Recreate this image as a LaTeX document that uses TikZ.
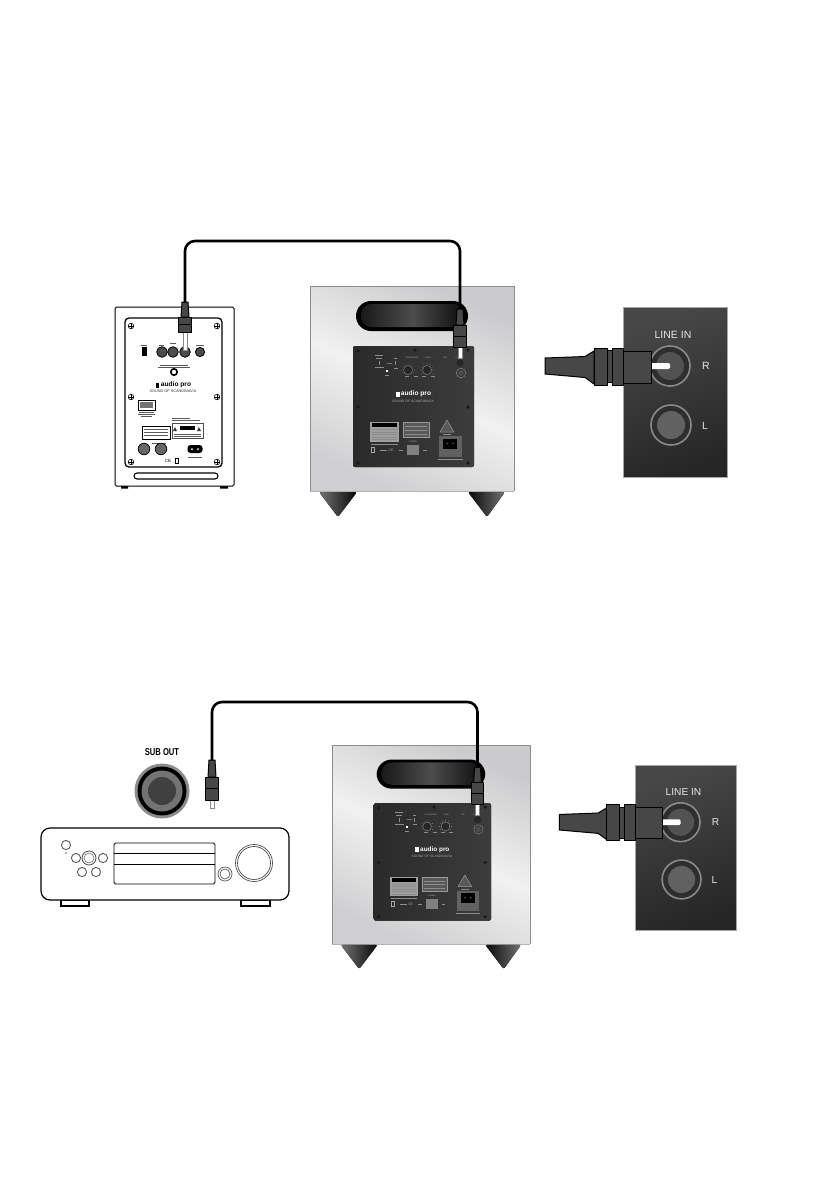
\documentclass[tikz,border=0pt]{standalone}
\usepackage{fontspec}
\setmainfont{Liberation Sans}
\definecolor{silverA}{HTML}{CBCBCD}
\definecolor{silverB}{HTML}{F1F1F2}
\definecolor{silverC}{HTML}{CFCFD1}
\definecolor{panelA}{HTML}{2A2A2A}
\definecolor{panelB}{HTML}{3C3C3C}
\definecolor{plugG}{HTML}{474747}
\definecolor{ringG}{HTML}{8A8A8A}
\tikzset{
  cable/.style={draw=black,line width=2.6pt,rounded corners=10pt},
  plugpart/.style={fill=plugG,draw=black,line width=1pt,line join=round},
  pinpart/.style={fill=white,draw=ringG,line width=.5pt},
  lighttick/.style={draw=#1,line width=.5pt},
  lighttick/.default=white!55!black,
  darktick/.style={draw=black!65,line width=.5pt},
  subtxt/.style={text=white!70!black,inner sep=0pt,font=\fontsize{2}{2.4}\selectfont,transform shape},
  screw/.style={draw=black,line width=.6pt,fill=white},
  rec/.style={draw=black,line width=1.2pt,fill=white},
  recbtn/.style={draw=black!65,line width=.9pt,fill=white},
  jack/.style={fill=black!70,draw=black,line width=.8pt},
  paneltxt/.style={text=white!90!black,inner sep=0pt,font=\fontsize{10.5}{12}\selectfont,transform shape}
}
% vertical plug: name, x, y top, strain length, collar length, pin length
\newcommand{\vplug}[6]{%
  \coordinate (#1) at (#2,#3);
  \begin{scope}[shift={(#2,#3)}]
    \filldraw[pinpart] (-2,{#4+#5}) rectangle (2,{#4+#5+#6});
    \filldraw[plugpart] (-3,0) -- (3,0) -- (4,#4) -- (-4,#4) -- cycle;
    \filldraw[plugpart] (-6.5,#4) rectangle (6.5,{#4+#5/2});
    \filldraw[plugpart] (-6.5,{#4+#5/2}) rectangle (6.5,{#4+#5});
  \end{scope}}
% subwoofer, drawn at the top reference position inside a scope
\newcommand{\subwoofer}[1]{%
  \fill[left color=silverA,right color=silverC,middle color=silverB,shading angle=-25]
    (310,286) rectangle (514,491);
  \draw[black!45,line width=.7pt] (310,491) -- (310,286) -- (514,286) -- (514,491);
  \draw[black!30,line width=.7pt] (310,491) -- (514,491);
  \fill[left color=black!55,right color=black!97] (319,492) [rounded corners=2pt] -- (357,492) -- (338,517) -- cycle;
  \fill[left color=black!97,right color=black!55] (468,492) [rounded corners=2pt] -- (505,492) -- (487,517) -- cycle;
  \fill[black,rounded corners=15pt] (356,301) rectangle (468,331);
  \fill[left color=black!90,right color=black!95,middle color=black!70,rounded corners=10pt] (361,304) rectangle (464,327);
  \fill[left color=panelA,right color=panelB,rounded corners=2pt] (353,346) rectangle (474,467);
  \foreach \px/\py in {358/351,415/350,468/350,358/407,468/407,358/463,468/463}
    \fill[black!90] (\px,\py) circle (1.8);
  \node[subtxt] (#1xo) at (412,358) {CROSSOVER};
  \node[subtxt] (#1lv) at (428,358) {LEVEL};
  \node[subtxt] (#1lfe) at (445,358) {LFE};
  \node[subtxt] (#1li) at (459,358) {LINE IN};
  \node[subtxt] (#1pw) at (413,442) {POWER};
  \draw[lighttick] (375,355) -- (383,355) (376,358) -- (382,358) (375,367.5) -- (384,367.5) (394,358) -- (397,358) (394,368) -- (398,368) (385,375) -- (389,375);
  \draw[lighttick=black!55] (387,363) -- (392,363);
  \draw[lighttick] (379,361) -- (379,365) (395,361) -- (395,365);
  \fill[white] (386,370) rectangle (388,372);
  \foreach \kx in {408,427}{
    \filldraw[fill=black!85,draw=black!50,line width=.5pt] (\kx,370) circle (4.5);
    \foreach \a in {-30,0,...,210} \fill[white!65!black] ({\kx+6.2*cos(\a)},{370-6.2*sin(\a)}) circle (.3);
  }
  \draw[lighttick] (405,376) -- (409,376) (414,376) -- (418,376) (422,376) -- (426,376) (431,376) -- (435,376);
  \fill[black!85] (460,363) circle (3.6);
  \draw[black!50,line width=.5pt] (461,373) circle (4.8);
  \fill[black!70] (461,373) circle (2.8);
  \fill[white] (396,391.5) rectangle (399.5,396.5);
  \node[text=white,inner sep=0pt,font=\fontsize{6.6}{8}\bfseries\selectfont,transform shape] (#1logo) at (416,394) {audio pro};
  \node[text=white!65!black,inner sep=0pt,font=\fontsize{3.4}{4}\selectfont,transform shape] (#1snd) at (413,401) {SOUND OF SCANDINAVIA};
  \fill[white!62!black] (370,422) rectangle (399,442);
  \fill[black] (372,423) rectangle (397,427);
  \foreach \ly in {429.5,432,434.5,437,439.5} \draw[lighttick=black!45,line width=.7pt] (372,\ly) -- (397,\ly);
  \draw[lighttick] (371,444) -- (398,444);
  \filldraw[fill=black!65,draw=white!60!black,line width=.5pt] (403,422) rectangle (429,437);
  \foreach \ly in {426,430,434} \draw[lighttick] (405,\ly) -- (427,\ly);
  \filldraw[fill=black!65,draw=white!60!black,line width=.5pt,line join=round] (447,420) -- (454,432) -- (440,432) -- cycle;
  \draw[lighttick] (443,434.5) -- (451,434.5);
  \fill[black!62] (439,436) rectangle (462,457);
  \fill[black] (443,439) rectangle (457,449);
  \fill[white!60!black] (447,443.5) circle (.7) (453,443.5) circle (.7);
  \draw[lighttick] (438,459.5) -- (463,459.5);
  \fill[black!50] (407,445) rectangle (419,455);
  \draw[lighttick] (399,450) -- (403,450) (423,450) -- (427,450) (380,450) -- (387,450);
  \node[subtxt,font=\fontsize{3.4}{4}\selectfont] (#1ce) at (391,450) {CE};
  \draw[white!65!black,line width=.5pt] (371.5,447.5) rectangle (374.5,452.5);
  \vplug{#1plug}{460}{309}{16}{22}{11}
}
% line-in panel, drawn at the top reference position
\newcommand{\lineinpanel}[1]{%
  \fill[left color=black!72,right color=black!85,shading angle=20] (623,307) rectangle (727,477);
  \draw[black!35,line width=.5pt] (623,307) rectangle (727,477);
  \node[paneltxt] (#1t) at (673,335) {LINE IN};
  \node[paneltxt,font=\fontsize{10.5}{12}\selectfont] (#1r) at (706,366) {R};
  \node[paneltxt,font=\fontsize{10.5}{12}\selectfont] (#1l) at (705,426) {L};
  \filldraw[fill=black!82,draw=ringG,line width=1.6pt] (670,366) circle (20);
  \fill[black!68] (670,366) circle (14);
  \filldraw[fill=black!82,draw=ringG,line width=1.6pt] (671,425) circle (20);
  \fill[black!62] (671,425) circle (14);
  \fill[white,rounded corners=1.5pt] (650,363) rectangle (670,369);
  \filldraw[plugpart] (545,358) -- (585,356.5) -- (594,351) -- (594,384) -- (585,377.5) -- (545,374) -- cycle;
  \filldraw[plugpart] (594,348) rectangle (607,385);
  \filldraw[plugpart] (607,350.5) rectangle (612,382.5);
  \filldraw[plugpart] (612,348) rectangle (623,385);
  \filldraw[plugpart] (623,351) rectangle (651,383);
}
\begin{document}
\begin{tikzpicture}[x=1pt,y=-1pt]
\useasboundingbox (0,0) rectangle (839,1191);
\fill[white] (0,0) rectangle (839,1191);
% --- monitor speaker
\fill[black] (121,486) rectangle (128,488.5) (220,486) rectangle (228,488.5);
\draw[black,line width=1pt,fill=white,rounded corners=1.5pt] (115,307) rectangle (234,486);
\draw[black,line width=1.3pt,rounded corners=4pt] (125,318) rectangle (222,467);
\draw[black,line width=1.1pt,rounded corners=3pt] (134,473) rectangle (218,479);
\foreach \sx/\sy in {131/326,217/326,131/397,217/397,131/462,217/462}{
  \draw[screw] (\sx,\sy) circle (2.8);
  \draw[black,line width=.5pt] (\sx-2.8,\sy) -- (\sx+2.8,\sy) (\sx,\sy-2.8) -- (\sx,\sy+2.8);
}
\fill[black] (141.5,346.5) rectangle (146.5,356);
\foreach \jx in {162,173,185} \filldraw[jack] (\jx,352) circle (5.3);
\filldraw[jack] (200,352) circle (4.6);
\draw[darktick] (141,345.5) -- (147,345.5) (159,345.5) -- (164,345.5) (170,343.5) -- (176,343.5) (196,345.5) -- (204,345.5);
\draw[darktick] (160,365) -- (188,365) (158,367) -- (190,367);
\draw[black,line width=1.7pt] (174,372) circle (3.2);
\fill[black] (155.5,382.5) rectangle (158.5,387.5);
\node[text=black,inner sep=0pt,font=\fontsize{6.6}{8}\bfseries\selectfont] (monlogo) at (176,385) {audio pro};
\node[text=black!80,inner sep=0pt,font=\fontsize{3.8}{4.5}\selectfont] (monsnd) at (173,391) {SOUND OF SCANDINAVIA};
\draw[black,line width=.8pt] (138,400) rectangle (155,410);
\fill[black!55] (140,402) rectangle (153,408);
\draw[darktick] (139,412) -- (154,412) (138,414) -- (155,414) (141,416) -- (152,416);
\draw[black,line width=.6pt] (142,426) rectangle (170,439);
\foreach \ly in {429,432,435.5} \draw[darktick] (144,\ly) -- (168,\ly);
\draw[darktick] (172,418) -- (190,418) (172,420) -- (200,420);
\draw[black!70,line width=.5pt] (172,423) rectangle (203,438);
\fill[black] (180,426) rectangle (195,430);
\foreach \tx in {175,199} \fill[black!80] (\tx-2,431) -- (\tx+2,431) -- (\tx,427) -- cycle;
\draw[darktick] (174,434) -- (201,434) (174,436) -- (201,436);
\draw[darktick] (152,443) -- (166,443);
\filldraw[fill=black!60,draw=black,line width=.7pt] (144,449) circle (5.8);
\filldraw[fill=black!60,draw=black,line width=.7pt] (161,449) circle (5.8);
\fill[black,rounded corners=3pt] (187.5,445) rectangle (202.5,453);
\fill[white] (192,449) circle (1) (198,449) circle (1);
\draw[darktick] (188,457) -- (202,457);
\node[inner sep=0pt,font=\fontsize{4.5}{5}\selectfont] (monce) at (168,461) {CE};
\draw[black,line width=.5pt] (175,458.5) rectangle (178,463.5);
\vplug{monplug}{185}{302}{15}{15}{18}
% --- top subwoofer and panel
\subwoofer{sa}
\lineinpanel{la}
\coordinate (topa) at (300,241);
\draw[cable] (monplug) -- (monplug |- topa) -- (saplug |- topa) -- (saplug);
% --- bottom subwoofer and panel
\begin{scope}[shift={(332,745)},scale=.97,shift={(-310,-286)}]
  \subwoofer{sb}
\end{scope}
\begin{scope}[shift={(635,765)},scale=.97,shift={(-623,-307)}]
  \lineinpanel{lb}
\end{scope}
% --- receiver
\filldraw[rec] (61,900) rectangle (89,906);
\filldraw[rec] (241,900) rectangle (270,906);
\draw[rec,rounded corners=9pt] (41,828) rectangle (289,900);
\draw[black,line width=.9pt,rounded corners=1.5pt] (114,843) rectangle (215,884);
\draw[black,line width=.9pt] (114,853) -- (215,853) (114,864) -- (215,864);
\draw[black!70,line width=.7pt] (254,863) circle (18.5);
\draw[black!70,line width=.7pt] (254,863) circle (16.5);
\draw[recbtn,line width=.7pt] (225,874) circle (7);
\draw[recbtn,line width=.7pt] (225,874) circle (5);
\foreach \bx/\by in {66/845,76/858,103/858,82/872,96/872} \draw[recbtn] (\bx,\by) circle (4.6);
\draw[recbtn] (89,858) circle (7);
\draw[recbtn,line width=.5pt] (89,858) circle (5);
\fill[black!60] (66,853) circle (.8);
% --- sub out
\node[text=black,inner sep=0pt,font=\fontsize{10}{12}\bfseries\selectfont,xscale=.76,transform shape] (subout) at (162,752) {SUB OUT};
\fill[black!45] (162,791) circle (27.5);
\fill[black] (162,791) circle (24.5);
\fill[black!55] (162,791) circle (20.5);
\fill[black!75] (162,791) circle (14);
\vplug{outplug}{212}{760}{17}{23}{8}
\coordinate (topb) at (300,702);
\draw[cable] (outplug) -- (outplug |- topb) -- (sbplug |- topb) -- (sbplug);
\end{tikzpicture}
\end{document}
